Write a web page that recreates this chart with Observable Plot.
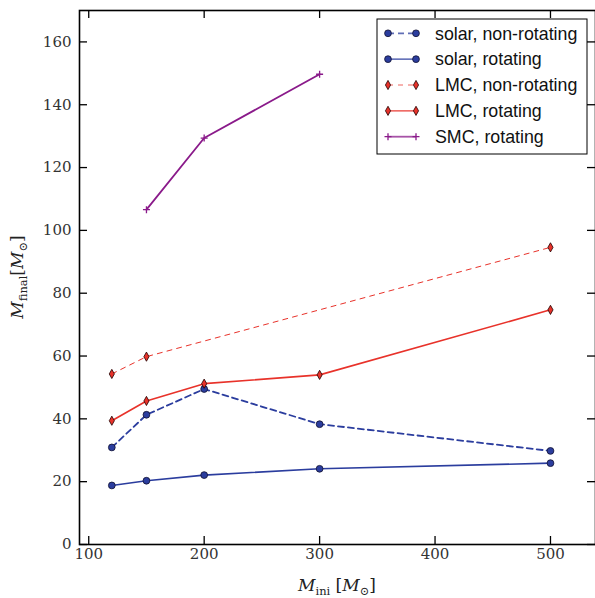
<!DOCTYPE html>
<html><head><meta charset="utf-8">
<script src="https://cdn.jsdelivr.net/npm/d3@7"></script>
<script src="https://cdn.jsdelivr.net/npm/@observablehq/plot@0.6"></script>
<style>body{margin:0;background:#fff} #chart{width:595px;height:598px;overflow:hidden}</style>
</head><body><div id="chart"></div>
<script>
// ---- data ----
const masses = [120, 150, 200, 300, 500];
const solarNonRot = [30.9, 41.3, 49.5, 38.3, 29.8];
const solarRot = [18.8, 20.3, 22.1, 24.1, 25.9];
const lmcNonRotMasses = [120, 150, 500];
const lmcNonRot = [54.3, 59.8, 94.6];
const lmcRot = [39.4, 45.7, 51.2, 54.0, 74.7];
const smcMasses = [150, 200, 300];
const smcRot = [106.6, 129.4, 149.7];
const xTicks = [100, 200, 300, 400, 500];
const yTicks = [0, 20, 40, 60, 80, 100, 120, 140, 160];
const seriesNames = ["solar, non-rotating", "solar, rotating", "LMC, non-rotating", "LMC, rotating", "SMC, rotating"];

// ---- styles ----
const BLUE = "#2b3d9e", RED = "#e8322a", PURPLE = "#8a1a8a";
const thinDiamond = {draw(ctx, size) { const r = Math.sqrt(size / Math.PI); const h = r, w = r * 0.56;
  ctx.moveTo(0, -h); ctx.lineTo(w, 0); ctx.lineTo(0, h); ctx.lineTo(-w, 0); ctx.closePath(); }};
const plusSym = {draw(ctx, size) { const r = Math.sqrt(size / Math.PI);
  ctx.moveTo(-r, 0); ctx.lineTo(r, 0); ctx.moveTo(0, -r); ctx.lineTo(0, r); }};

const styles = [
  {stroke: BLUE, dash: "6,4", width: 1.8, symbol: "circle", r: 3.4, fill: BLUE, mstroke: "#101030"},
  {stroke: BLUE, dash: null, width: 1.6, symbol: "circle", r: 3.4, fill: BLUE, mstroke: "#101030"},
  {stroke: RED, dash: "5,5", width: 1.0, symbol: thinDiamond, r: 4.6, fill: RED, mstroke: "#200000"},
  {stroke: RED, dash: null, width: 1.6, symbol: thinDiamond, r: 4.6, fill: RED, mstroke: "#200000"},
  {stroke: PURPLE, dash: null, width: 1.8, symbol: plusSym, r: 3.5, fill: "none", mstroke: PURPLE}
];
const series = [
  {name: seriesNames[0], xs: masses, ys: solarNonRot},
  {name: seriesNames[1], xs: masses, ys: solarRot},
  {name: seriesNames[2], xs: lmcNonRotMasses, ys: lmcNonRot},
  {name: seriesNames[3], xs: masses, ys: lmcRot},
  {name: seriesNames[4], xs: smcMasses, ys: smcRot}
];

const W = 595, H = 598, mL = 79, mR = 0, mT = 10, mB = 54;
const innerW = W - mL - mR, innerH = H - mT - mB;
const TICK = 8;
const serif = "DejaVu Serif";
const sans = "Liberation Sans";

const marks = [];
series.forEach((s, k) => {
  const st = styles[k];
  const data = s.xs.map((x, i) => ({x, y: s.ys[i]}));
  marks.push(Plot.line(data, {x: "x", y: "y", stroke: st.stroke, strokeWidth: st.width,
    strokeDasharray: st.dash || undefined}));
});
series.forEach((s, k) => {
  const st = styles[k];
  const data = s.xs.map((x, i) => ({x, y: s.ys[i]}));
  marks.push(Plot.dot(data, {x: "x", y: "y", symbol: () => st.symbol, r: st.r, fill: st.fill,
    stroke: st.mstroke, strokeWidth: k === 4 ? 1.3 : 0.8}));
});

const plot = Plot.plot({
  width: W, height: H, marginLeft: mL, marginRight: mR, marginTop: mT, marginBottom: mB,
  style: {background: "white", overflow: "visible"},
  symbol: {type: "identity"},
  x: {domain: [92, 539], axis: null},
  y: {domain: [0, 170], axis: null},
  marks: [
    ...marks,
    // inward ticks on four sides
    Plot.tickX(xTicks, {x: d => d, insetTop: innerH - TICK, stroke: "black", strokeWidth: 1.3}),
    Plot.tickX(xTicks, {x: d => d, insetBottom: innerH - TICK, stroke: "black", strokeWidth: 1.3}),
    Plot.tickY(yTicks, {y: d => d, insetRight: innerW - TICK, stroke: "black", strokeWidth: 1.3}),
    Plot.tickY(yTicks, {y: d => d, insetLeft: innerW - TICK, stroke: "black", strokeWidth: 1.3}),
    // tick labels
    Plot.text(xTicks, {x: d => d, text: d => String(d), frameAnchor: "bottom", lineAnchor: "top", dy: 4,
      fontFamily: serif, fontSize: 15, fill: "#333"}),
    Plot.text(yTicks, {y: d => d, text: d => String(d), frameAnchor: "left", textAnchor: "end", dx: -8,
      fontFamily: serif, fontSize: 15, fill: "#333"}),
    Plot.frame({stroke: "black", strokeWidth: 1.6})
  ]
});
document.getElementById("chart").appendChild(plot);

const svg = d3.select(plot);

// ---- legend ----
const lg = svg.append("g").attr("text-anchor", "start");
const lx = 377, ly = 19, lw = 210, lh = 135;
lg.append("rect").attr("x", lx).attr("y", ly).attr("width", lw).attr("height", lh)
  .attr("fill", "white").attr("stroke", "black").attr("stroke-width", 1);
series.forEach((s, k) => {
  const st = styles[k];
  const cy = 33.3 + k * 25.85;
  lg.append("line").attr("x1", 388).attr("x2", 416).attr("y1", cy).attr("y2", cy)
    .attr("stroke", st.stroke).attr("stroke-width", st.width).attr("stroke-opacity", 0.75)
    .attr("stroke-dasharray", st.dash ? st.dash : null);
  [388, 416].forEach(mx => {
    const sym = typeof st.symbol === "string" ? d3.symbolCircle : st.symbol;
    lg.append("path").attr("transform", `translate(${mx},${cy})`)
      .attr("d", d3.symbol(sym, st.r * st.r * Math.PI)())
      .attr("fill", st.fill).attr("stroke", st.mstroke).attr("stroke-width", k === 4 ? 1.3 : 0.8);
  });
  lg.append("text").attr("x", 435).attr("y", cy).attr("dy", "0.35em").attr("text-anchor", "start")
    .attr("font-family", sans).attr("font-size", 17.8)
    .attr("fill", "#111").text(s.name);
});

// ---- axis titles ----
function title(g, main, sub, gap) {
  const t = g.append("text").attr("font-family", serif).attr("font-size", 17).attr("fill", "#222");
  t.append("tspan").attr("font-style", "italic").text("M");
  t.append("tspan").attr("font-size", 11.5).attr("dy", 4).text(main);
  t.append("tspan").attr("dy", -4).text(gap + "[");
  t.append("tspan").attr("font-style", "italic").text("M");
  t.append("tspan").attr("font-size", 11.5).attr("dy", 4).text(sub);
  t.append("tspan").attr("dy", -4).text("]");
  return t;
}
const xt = title(svg.append("g"), "ini", "\u2299", " ");
xt.attr("x", 337).attr("y", 591).attr("text-anchor", "middle");
const yg = svg.append("g").attr("transform", "translate(23,277) rotate(-90)");
title(yg, "final", "\u2299", "").attr("text-anchor", "middle");
</script>
</body></html>
